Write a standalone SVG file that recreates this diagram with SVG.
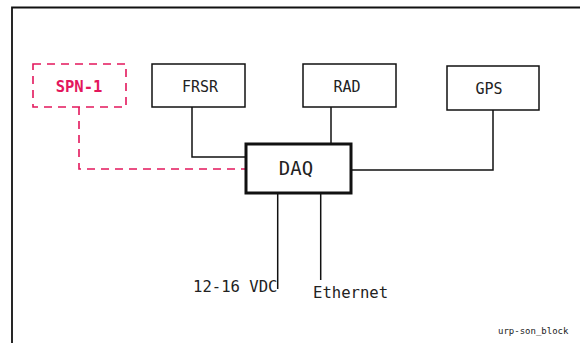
<svg xmlns="http://www.w3.org/2000/svg" width="580" height="343" viewBox="0 0 580 343">
<style>
  .box { fill: #fff; stroke: #111; stroke-width: 1.5; }
  .daq { fill: #fff; stroke: #111; stroke-width: 3; }
  .dash { fill: none; stroke: #e3175c; stroke-width: 1.6; stroke-dasharray: 8 6; }
  .wire { fill: none; stroke: #111; stroke-width: 1.5; }
  .lbl { font-family: "DejaVu Sans Mono", "Liberation Mono", monospace; font-size: 15px; fill: #222; }
  .pink { font-family: "DejaVu Sans Mono", "Liberation Mono", monospace; font-size: 15.5px; font-weight: bold; fill: #e3175c; }
</style>
<rect x="0" y="0" width="580" height="343" fill="#fff"/>
<g id="frame">
  <path d="M12 343 V7.5 H580" fill="none" stroke="#111" stroke-width="1.8"/>
</g>
<g id="connectors">
  <path class="wire" d="M192 107 V157 H246"/>
  <path class="wire" d="M331 107 V144"/>
  <path class="wire" d="M493 110 V170 H351"/>
  <path class="dash" d="M79 107 V169 H246"/>
  <path class="wire" d="M277.7 193 V289"/>
  <path class="wire" d="M320.7 193 V280"/>
</g>
<g id="SPN-1">
  <rect class="dash" x="33" y="64" width="93" height="43"/>
  <text class="pink" x="79" y="92" text-anchor="middle">SPN-1</text>
</g>
<g id="FRSR">
  <rect class="box" x="152" y="64" width="93" height="43"/>
  <text class="lbl" x="200" y="92" text-anchor="middle">FRSR</text>
</g>
<g id="RAD">
  <rect class="box" x="303" y="64" width="93" height="43"/>
  <text class="lbl" x="347" y="92" text-anchor="middle">RAD</text>
</g>
<g id="GPS">
  <rect class="box" x="447" y="66" width="92" height="44"/>
  <text class="lbl" x="489" y="94" text-anchor="middle">GPS</text>
</g>
<g id="DAQ">
  <rect class="daq" x="246" y="144" width="105" height="49"/>
  <text class="lbl" x="296" y="175" text-anchor="middle" style="font-size:19px">DAQ</text>
</g>
<g id="labels">
  <text class="lbl" x="193" y="292" style="font-size:15.6px">12-16 VDC</text>
  <text class="lbl" x="313" y="298" style="font-size:15.6px">Ethernet</text>
  <text class="lbl" x="498" y="334" style="font-size:9px">urp-son_block</text>
</g>
</svg>
